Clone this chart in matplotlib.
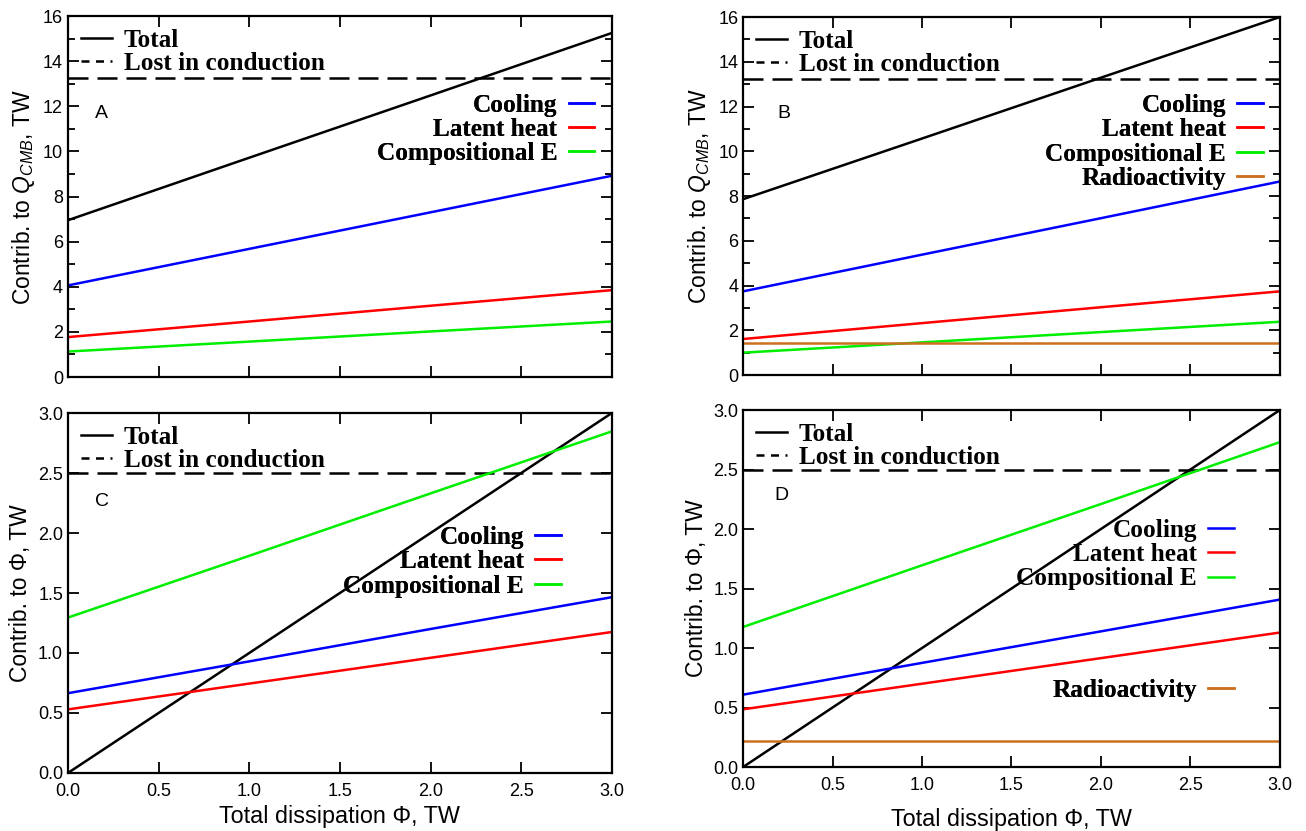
import matplotlib
matplotlib.use('Agg')
import matplotlib.pyplot as plt
from matplotlib.lines import Line2D
from matplotlib.ticker import MultipleLocator

plt.rcParams['mathtext.fontset'] = 'custom'
plt.rcParams['mathtext.it'] = 'Liberation Sans:italic'
plt.rcParams['mathtext.rm'] = 'Liberation Sans'

# dissipation values (TW) where the curves were read
phi = [0.0, 1.0, 2.0, 3.0]

# panel A: contributions to Q_CMB
a_total = [6.95, 9.72, 12.48, 15.25]
a_lost = [13.25, 13.25, 13.25, 13.25]
a_cooling = [4.06, 5.68, 7.30, 8.92]
a_latent = [1.77, 2.46, 3.16, 3.85]
a_comp = [1.13, 1.57, 2.02, 2.46]

# panel B: contributions to Q_CMB with radioactivity
b_total = [7.86, 10.57, 13.29, 16.0]
b_lost = [13.25, 13.25, 13.25, 13.25]
b_cooling = [3.74, 5.38, 7.01, 8.65]
b_latent = [1.61, 2.32, 3.03, 3.74]
b_comp = [1.0, 1.46, 1.92, 2.38]
b_radio = [1.45, 1.45, 1.45, 1.45]

# panel C: contributions to dissipation
c_total = [0.0, 1.0, 2.0, 3.0]
c_lost = [2.5, 2.5, 2.5, 2.5]
c_cooling = [0.665, 0.93, 1.2, 1.465]
c_latent = [0.53, 0.745, 0.96, 1.175]
c_comp = [1.295, 1.81, 2.33, 2.847]

# panel D: contributions to dissipation with radioactivity
d_total = [0.0, 1.0, 2.0, 3.0]
d_lost = [2.5, 2.5, 2.5, 2.5]
d_cooling = [0.608, 0.875, 1.14, 1.407]
d_latent = [0.485, 0.70, 0.915, 1.13]
d_comp = [1.177, 1.695, 2.21, 2.73]
d_radio = [0.219, 0.219, 0.219, 0.219]

blue = '#0000ff'
red = '#ff0000'
green = '#00ee00'
orange = '#cc7020'

sans = ['Liberation Sans', 'DejaVu Sans']
legfont = {'family': 'Liberation Serif', 'weight': 'bold', 'size': 18.2}

fig = plt.figure(figsize=(13.06, 8.31), dpi=100)
axA = fig.add_axes([0.052, 0.5463, 0.4165, 0.4344])
axB = fig.add_axes([0.569, 0.5487, 0.411, 0.4308])
axC = fig.add_axes([0.052, 0.0698, 0.4165, 0.4332])
axD = fig.add_axes([0.569, 0.0770, 0.411, 0.4296])


def style_axis(ax, ymax, major, minor, xlabels, labelpad=5):
    ax.set_xlim(0, 3)
    ax.set_ylim(0, ymax)
    ax.xaxis.set_major_locator(MultipleLocator(0.5))
    ax.yaxis.set_major_locator(MultipleLocator(major))
    if minor:
        ax.yaxis.set_minor_locator(MultipleLocator(minor))
    ax.tick_params(which='both', direction='in', top=True, right=True, width=1.3)
    ax.tick_params(which='major', length=8, labelsize=13)
    ax.tick_params(which='minor', length=5)
    ax.tick_params(axis='x', which='major', pad=7)
    for sp in ax.spines.values():
        sp.set_linewidth(1.6)
    if xlabels:
        ax.xaxis.set_major_formatter(plt.FormatStrFormatter('%.1f'))
        ax.set_xlabel('Total dissipation Φ, TW', fontsize=16.8, family=sans, labelpad=labelpad)
    else:
        ax.set_xticklabels([])
    for lab in ax.get_yticklabels() + ax.get_xticklabels():
        lab.set_family(sans)


def draw_panel(ax, total, lost, cooling, latent, comp, radio=None):
    lt, = ax.plot(phi, total, color='black', lw=1.8)
    ax.plot(phi, lost, color='black', lw=1.8, dashes=(8, 3.6))
    lc, = ax.plot(phi, cooling, color=blue, lw=1.8)
    lh, = ax.plot(phi, latent, color=red, lw=1.8)
    lg, = ax.plot(phi, comp, color=green, lw=1.8)
    lr = None
    if radio is not None:
        lr, = ax.plot(phi, radio, color=orange, lw=1.8)
    return lt, lc, lh, lg, lr


def top_left_legend(ax, lt):
    ll = Line2D([], [], color='black', lw=1.8, dashes=(3.2, 2.6))
    leg = ax.legend([lt, ll], ['Total', 'Lost in conduction'], loc='upper left',
                    bbox_to_anchor=(0.0, 1.0), frameon=False, prop=legfont,
                    handlelength=1.25, handletextpad=0.45, labelspacing=0.0,
                    borderaxespad=0.3, borderpad=0.2)
    ax.add_artist(leg)


def right_legend(ax, handles, labels, anchor_x, anchor_y):
    leg = ax.legend(handles, labels, loc='upper right',
                    bbox_to_anchor=(anchor_x, anchor_y), frameon=False, prop=legfont,
                    markerfirst=False, handlelength=1.0, handletextpad=0.45,
                    labelspacing=0.05, borderaxespad=0.0, borderpad=0.0)
    ax.add_artist(leg)


# panel A
style_axis(axA, 16, 2, 1, False)
lt, lc, lh, lg, lr = draw_panel(axA, a_total, a_lost, a_cooling, a_latent, a_comp)
top_left_legend(axA, lt)
right_legend(axA, [lc, lh, lg], ['Cooling', 'Latent heat', 'Compositional E'], 0.967, 0.785)
axA.text(0.05, 0.73, 'A', transform=axA.transAxes, fontsize=14, family=sans, va='center')
axA.set_ylabel('Contrib. to $Q_{CMB}$, TW', fontsize=16.5, family=sans)

# panel B
style_axis(axB, 16, 2, 1, False)
lt, lc, lh, lg, lr = draw_panel(axB, b_total, b_lost, b_cooling, b_latent, b_comp, b_radio)
top_left_legend(axB, lt)
right_legend(axB, [lc, lh, lg, lr],
             ['Cooling', 'Latent heat', 'Compositional E', 'Radioactivity'], 0.968, 0.785)
axB.text(0.063, 0.73, 'B', transform=axB.transAxes, fontsize=14, family=sans, va='center')
axB.set_ylabel('Contrib. to $Q_{CMB}$, TW', fontsize=16.5, family=sans)

# panel C
style_axis(axC, 3, 0.5, None, True, labelpad=4)
lt, lc, lh, lg, lr = draw_panel(axC, c_total, c_lost, c_cooling, c_latent, c_comp)
top_left_legend(axC, lt)
right_legend(axC, [lc, lh, lg], ['Cooling', 'Latent heat', 'Compositional E'], 0.906, 0.686)
axC.text(0.05, 0.755, 'C', transform=axC.transAxes, fontsize=14, family=sans, va='center')
axC.set_ylabel('Contrib. to Φ, TW', fontsize=16.5, family=sans)

# panel D
style_axis(axD, 3, 0.5, None, True, labelpad=10)
lt, lc, lh, lg, lr = draw_panel(axD, d_total, d_lost, d_cooling, d_latent, d_comp, d_radio)
top_left_legend(axD, lt)
right_legend(axD, [lc, lh, lg], ['Cooling', 'Latent heat', 'Compositional E'], 0.914, 0.695)
right_legend(axD, [lr], ['Radioactivity'], 0.914, 0.247)
axD.text(0.058, 0.76, 'D', transform=axD.transAxes, fontsize=14, family=sans, va='center')
axD.set_ylabel('Contrib. to Φ, TW', fontsize=16.5, family=sans)

fig.savefig('out.png', dpi=100)
